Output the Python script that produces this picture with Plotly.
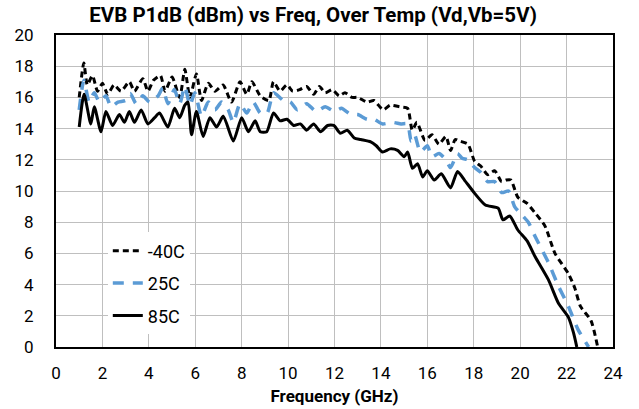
import plotly.graph_objects as go

# -40C
f_m40 = [1.0,1.2,1.35,1.57,1.79,2.0,2.23,2.5,2.8,3.16,3.38,3.74,3.96,4.2,4.5,4.7,5.0,5.33,5.55,5.77,
         6.05,6.27,6.56,6.85,7.2,7.56,7.93,8.22,8.44,8.8,9.17,9.37,9.65,9.95,10.2,10.5,10.8,11.1,11.35,11.6,
         11.9,12.2,12.45,12.75,13.0,13.4,13.7,14.1,14.4,14.8,15.15,15.35,15.55,15.9,16.2,16.5,16.8,17.0,17.2,17.4,
         17.75,18.04,18.3,18.6,18.9,19.2,19.4,19.6,19.9,20.3,20.64,21.07,21.5,22.08,22.35,22.6,23.05,23.34]
p_m40 = [16.0,18.2,16.8,17.4,16.4,16.9,16.2,16.8,16.4,17.0,16.4,17.2,16.4,17.1,17.4,16.4,17.3,16.0,17.8,16.0,
         17.5,15.8,16.9,16.4,16.8,15.7,17.0,16.2,17.0,16.1,15.8,17.0,16.4,16.8,16.4,16.5,16.7,16.2,16.7,16.3,
         16.5,16.1,16.3,16.0,16.0,15.7,15.8,15.2,15.5,15.4,15.3,13.9,14.4,13.25,13.6,13.0,13.5,12.6,13.3,13.2,
         13.0,11.9,11.6,11.05,11.3,10.6,10.7,10.7,9.6,9.2,8.6,7.75,6.0,4.7,3.8,2.6,1.7,0.0]

# 25C
f_25 = [1.0,1.2,1.43,1.65,1.87,2.15,2.37,2.67,3.0,3.2,3.45,3.74,4.03,4.4,4.6,4.82,5.1,5.33,5.55,5.77,
        5.98,6.27,6.56,6.85,7.13,7.42,7.64,7.93,8.22,8.5,8.8,9.1,9.37,9.8,10.1,10.4,10.8,11.2,11.6,12.0,
        12.3,12.7,13.0,13.4,13.7,14.07,14.5,14.87,15.15,15.3,15.45,15.7,16.0,16.2,16.5,16.8,17.0,17.3,17.5,17.75,
        18.04,18.3,18.6,18.9,19.2,19.5,19.76,20.05,20.35,20.64,21.22,21.65,22.08,22.5,22.95]
p_25 = [15.2,17.1,15.7,16.3,15.7,16.1,15.4,15.7,15.8,16.25,15.6,16.1,15.7,16.1,16.6,15.6,16.5,15.6,16.7,15.5,
        16.3,14.8,15.7,15.2,15.7,15.2,14.4,15.6,15.0,15.7,15.0,15.0,16.3,15.8,15.7,15.2,15.6,15.1,15.4,15.1,
        15.3,14.9,14.9,14.6,14.6,14.3,14.4,14.3,14.3,13.2,13.6,12.5,12.9,12.2,12.4,12.0,11.5,12.4,12.1,12.0,
        11.5,11.2,10.6,10.6,9.9,10.0,9.0,8.5,8.0,7.1,5.4,3.9,2.6,1.1,0.0]

# 85C
f_85 = [1.0,1.21,1.5,1.65,1.94,2.15,2.44,2.73,2.95,3.16,3.38,3.67,3.96,4.25,4.46,4.82,5.11,5.33,5.55,5.69,
        5.84,6.05,6.34,6.63,6.92,7.21,7.64,8.0,8.29,8.58,8.8,9.08,9.37,9.66,9.95,10.24,10.53,10.8,11.1,11.4,
        11.7,11.97,12.25,12.55,12.85,13.13,13.56,13.8,14.07,14.4,14.72,15.0,15.15,15.36,15.58,15.8,16.0,16.3,16.6,17.0,
        17.3,17.6,18.04,18.5,19.05,19.26,19.55,19.9,20.3,20.64,21.22,21.65,22.08,22.3,22.44]
p_85 = [14.1,16.2,14.3,15.4,13.8,15.1,14.2,14.9,14.4,15.1,14.4,15.2,14.3,14.7,15.0,14.1,15.3,14.7,15.5,15.7,
        13.6,15.1,13.5,14.7,14.1,14.8,13.2,14.7,13.8,14.5,13.8,13.8,15.0,14.5,14.6,14.2,14.3,13.9,14.3,13.8,
        14.2,14.2,13.7,13.9,13.4,13.3,13.15,12.9,12.5,12.7,12.6,12.2,12.5,11.45,11.75,10.9,11.3,10.7,11.1,10.2,
        11.25,10.7,9.85,9.1,8.9,8.15,8.4,7.5,6.8,5.8,4.3,2.8,1.9,0.9,0.0]

x_ticks = [0, 2, 4, 6, 8, 10, 12, 14, 16, 18, 20, 22, 24]
y_ticks = [0, 2, 4, 6, 8, 10, 12, 14, 16, 18, 20]

fig = go.Figure()
fig.add_trace(go.Scatter(x=f_m40, y=p_m40, mode="lines", name="-40C", legendgroup="a",
                         line=dict(color="black", width=3, dash="6px,4px", shape="spline", smoothing=0.6)))
fig.add_trace(go.Scatter(x=f_25, y=p_25, mode="lines", name="25C", legendgroup="b",
                         line=dict(color="#5B9BD5", width=3.5, dash="11px,9px", shape="spline", smoothing=0.6)))
fig.add_trace(go.Scatter(x=f_85, y=p_85, mode="lines", name="85C", legendgroup="c",
                         line=dict(color="black", width=3, shape="spline", smoothing=0.6)))

fig.update_layout(
    width=639, height=409,
    margin=dict(l=56, r=26, t=35, b=62),
    paper_bgcolor="white", plot_bgcolor="white",
    font=dict(family="Roboto", size=17, color="black"),
    title=dict(text="<b>EVB P1dB (dBm) vs Freq, Over Temp (Vd,Vb=5V)</b>",
               x=0.49, xanchor="center", xref="container", y=0.963, yanchor="middle", yref="container",
               font=dict(family="Roboto", size=20.5, color="black")),
    legend=dict(x=0.093, y=0.367, xanchor="left", yanchor="top", bgcolor="white",
                font=dict(size=18), tracegroupgap=6, traceorder="grouped"),
    showlegend=True,
)
fig.update_xaxes(range=[0, 24], tickvals=x_ticks, showgrid=True, gridcolor="#BFBFBF", gridwidth=1,
                 showline=True, linecolor="black", linewidth=2, mirror=True, ticks="",
                 ticklabelstandoff=10, zeroline=False, automargin=False,
                 title=dict(text="<b>Frequency (GHz)</b>", font=dict(size=17), standoff=8))
fig.update_yaxes(range=[0, 20], tickvals=y_ticks, showgrid=True, gridcolor="#BFBFBF", gridwidth=1,
                 showline=True, linecolor="black", linewidth=2, mirror=True, ticks="",
                 ticklabelstandoff=17, zeroline=False, automargin=False)

fig.write_html("out.html", config={"displayModeBar": False},
               post_script="document.body.style.margin='0';")
